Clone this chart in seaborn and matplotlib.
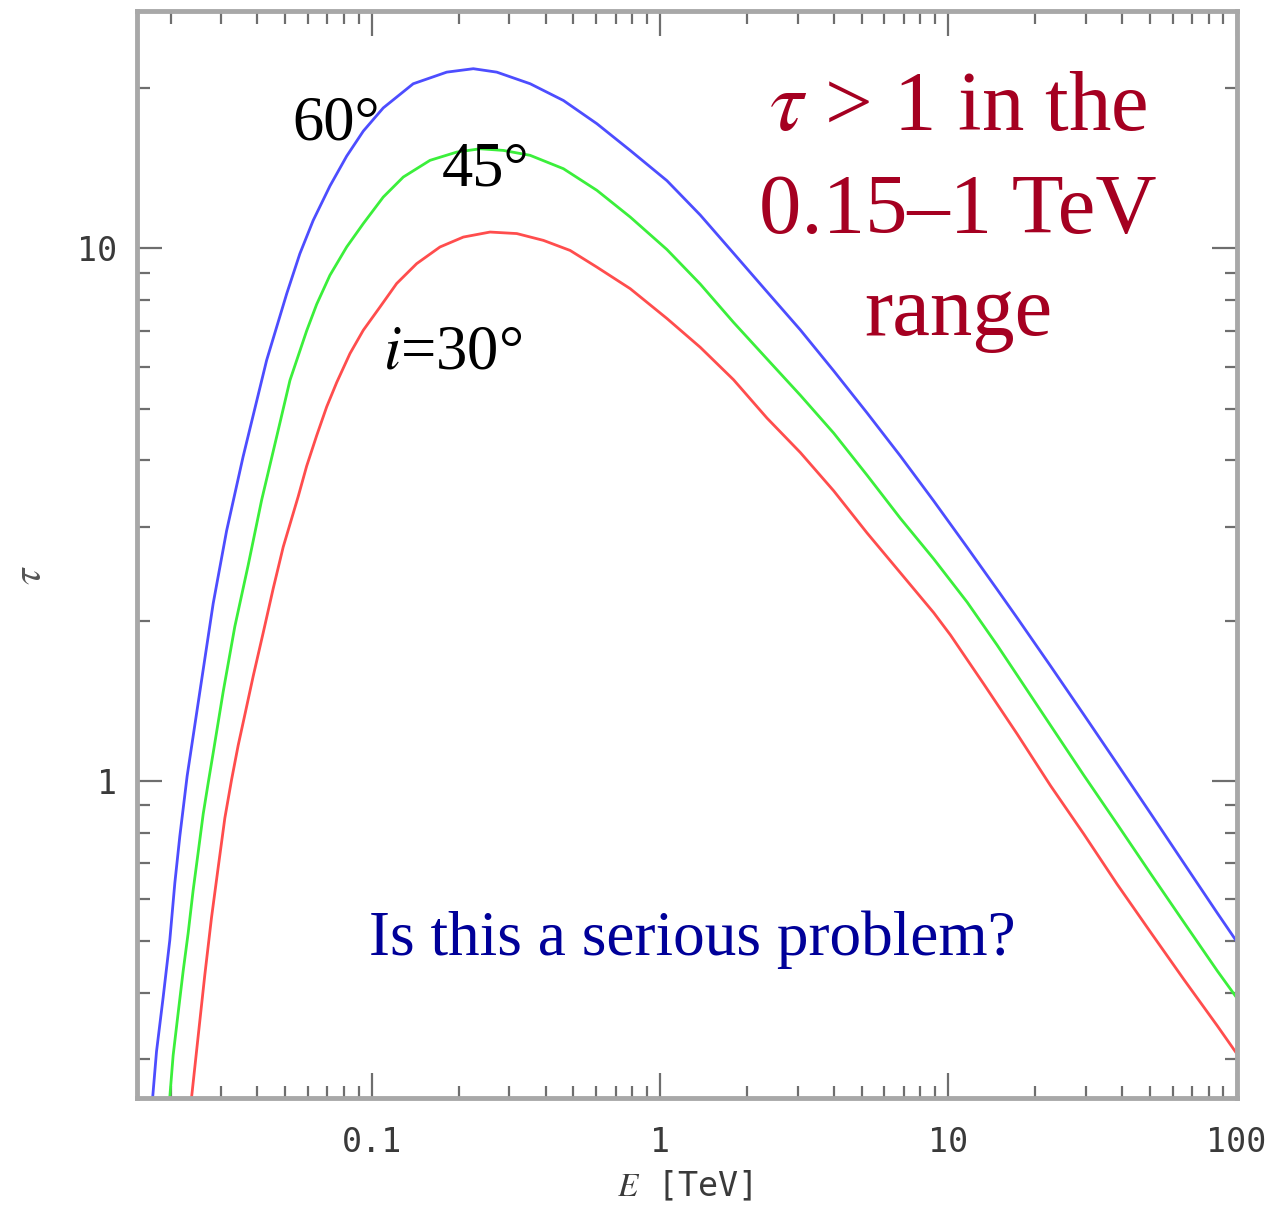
import numpy as np
import pandas as pd
import matplotlib
matplotlib.use("Agg")
import matplotlib.pyplot as plt
import matplotlib.ticker as mticker
import seaborn as sns

# ---------------- data ----------------
E_60 = [0.01734, 0.01788, 0.01885, 0.01988, 0.0207, 0.02154, 0.02284, 0.02528,
        0.02812, 0.0313, 0.0357, 0.0431, 0.0506, 0.0562, 0.0625, 0.0715, 0.0817,
        0.0933, 0.1094, 0.139, 0.1817, 0.2247, 0.271, 0.354, 0.4615, 0.603,
        0.787, 1.055, 1.377, 1.797, 2.347, 3.063, 3.998, 5.22, 6.81, 8.89,
        11.61, 14.75, 17.32, 22.61, 29.5, 38.5, 50.3, 65.6, 85.7, 100.0]
tau_60 = [0.2547, 0.3105, 0.392, 0.502, 0.6435, 0.7875, 1.022, 1.471,
          2.154, 2.949, 4.06, 6.165, 8.22, 9.77, 11.28, 13.1, 14.9,
          16.6, 18.35, 20.37, 21.42, 21.74, 21.42, 20.37, 18.95, 17.14,
          15.27, 13.40, 11.55, 9.79, 8.29, 7.03, 5.89, 4.91, 4.076, 3.356,
          2.747, 2.29, 2.024, 1.644, 1.332, 1.077, 0.869, 0.701, 0.565, 0.50]

E_45 = [0.01988, 0.02042, 0.02125, 0.02212, 0.02303, 0.02395, 0.02494, 0.02596,
        0.027, 0.02812, 0.03046, 0.03343, 0.03719, 0.0414, 0.04668, 0.05193,
        0.05933, 0.06427, 0.07145, 0.0817, 0.0933, 0.1094, 0.1284, 0.159,
        0.1968, 0.2371, 0.2857, 0.3537, 0.4615, 0.603, 0.787, 1.055, 1.377,
        1.797, 2.347, 3.063, 3.998, 5.22, 6.81, 8.89, 11.61, 14.75, 17.32,
        22.61, 29.5, 38.5, 50.3, 65.6, 85.7, 100.0]
tau_45 = [0.2547, 0.3053, 0.3664, 0.4395, 0.5186, 0.6223, 0.7342, 0.8666,
          0.989, 1.129, 1.471, 1.95, 2.542, 3.366, 4.426, 5.653,
          7.0, 7.85, 8.90, 10.06, 11.13, 12.48, 13.61, 14.63,
          15.16, 15.38, 15.27, 14.95, 14.11, 12.85, 11.45, 9.95, 8.57,
          7.26, 6.20, 5.30, 4.50, 3.751, 3.113, 2.612, 2.167, 1.80, 1.58,
          1.272, 1.025, 0.83, 0.67, 0.543, 0.44, 0.392]

E_30 = [0.02366, 0.02494, 0.0263, 0.02775, 0.02926, 0.03087, 0.03257, 0.03434,
        0.03622, 0.03871, 0.04195, 0.04544, 0.0492, 0.05546, 0.05933, 0.06427,
        0.06963, 0.07543, 0.08387, 0.0933, 0.1066, 0.1218, 0.1429, 0.1722,
        0.2075, 0.2568, 0.318, 0.3934, 0.4869, 0.603, 0.787, 1.055, 1.377,
        1.797, 2.347, 3.063, 3.998, 5.22, 6.81, 8.89, 10.16, 13.27, 17.32,
        22.61, 29.5, 38.5, 50.3, 65.6, 85.7, 100.0]
tau_30 = [0.2547, 0.3317, 0.4323, 0.5543, 0.6875, 0.8524, 1.0055, 1.167,
          1.332, 1.573, 1.90, 2.30, 2.75, 3.42, 3.90, 4.45,
          5.04, 5.60, 6.346, 7.02, 7.76, 8.59, 9.36, 10.06,
          10.5, 10.73, 10.66, 10.35, 9.91, 9.22, 8.40, 7.385, 6.52,
          5.666, 4.801, 4.137, 3.506, 2.922, 2.46, 2.07, 1.88, 1.52, 1.225,
          0.98, 0.795, 0.64, 0.52, 0.424, 0.347, 0.308]

angles = ["60°", "45°", "30°"]
line_colors = ["#4d4dff", "#3bef3b", "#ff4d4d"]

x_tick_values = [0.1, 1, 10, 100]
y_tick_values = [1, 10]

# ---------------- build long table ----------------
frames = []
for ang, e, t in zip(angles, [E_60, E_45, E_30], [tau_60, tau_45, tau_30]):
    frames.append(pd.DataFrame({"E": e, "tau": t, "angle": ang}))
df = pd.concat(frames, ignore_index=True)

# ---------------- styling ----------------
sns.set_theme(style="white")
plt.rcParams["mathtext.fontset"] = "stix"
plt.rcParams["font.family"] = ["DejaVu Sans Mono", "DejaVu Sans"]

W, H = 1276, 1213
fig = plt.figure(figsize=(W / 100, H / 100), dpi=100)
ax_left, ax_right, ax_top, ax_bottom = 137, 1237, 11, 1098
ax = fig.add_axes([ax_left / W, 1 - ax_bottom / H,
                   (ax_right - ax_left) / W, (ax_bottom - ax_top) / H])

sns.lineplot(data=df, x="E", y="tau", hue="angle", hue_order=angles,
             palette=dict(zip(angles, line_colors)), estimator=None,
             sort=False, linewidth=2.0, legend=False, ax=ax)

ax.set_xscale("log")
ax.set_yscale("log")
ax.set_xlim(0.0153, 100.3)
ax.set_ylim(0.254, 27.9)

ax.xaxis.set_major_locator(mticker.FixedLocator(x_tick_values))
ax.yaxis.set_major_locator(mticker.FixedLocator(y_tick_values))
ax.xaxis.set_minor_locator(mticker.LogLocator(base=10, subs=np.arange(2, 10), numticks=20))
ax.yaxis.set_minor_locator(mticker.LogLocator(base=10, subs=np.arange(2, 10), numticks=20))
fmt = mticker.FuncFormatter(lambda v, _: f"{v:g}")
ax.xaxis.set_major_formatter(fmt)
ax.yaxis.set_major_formatter(fmt)
ax.xaxis.set_minor_formatter(mticker.NullFormatter())
ax.yaxis.set_minor_formatter(mticker.NullFormatter())

ax.tick_params(which="both", direction="in", top=True, right=True,
               bottom=True, left=True, color="#6e6e6e")
ax.tick_params(which="major", length=18, width=1.6, labelsize=24,
               labelcolor="#3a3a3a")
ax.tick_params(axis="x", which="major", pad=20)
ax.tick_params(axis="y", which="major", pad=14)
ax.tick_params(which="minor", length=9, width=1.6)

for s in ax.spines.values():
    s.set_color("#a8a8a8")
    s.set_linewidth(3.5)

ax.set_xlabel(r"$E$ [TeV]", fontsize=24, color="#3a3a3a")
ax.xaxis.set_label_coords(0.498, -0.066)
ax.set_ylabel(r"$\tau$", fontsize=30, color="#555555", rotation=90)
ax.yaxis.label.set_verticalalignment("center")
ax.yaxis.label.set_horizontalalignment("center")
ax.yaxis.set_label_coords(-0.098, 0.481)

def fx(px):
    return (px - ax_left) / (ax_right - ax_left)

def fy(py):
    return (ax_bottom - py) / (ax_bottom - ax_top)

serif = ["Liberation Serif", "DejaVu Serif"]
ax.text(fx(292), fy(140), "60°", transform=ax.transAxes, fontsize=45,
        family=serif, color="black", ha="left", va="baseline")
ax.text(fx(442), fy(185), "45°", transform=ax.transAxes, fontsize=45,
        family=serif, color="black", ha="left", va="baseline")
ax.text(fx(383), fy(368), r"$i$=30°", transform=ax.transAxes, fontsize=45,
        family=serif, color="black", ha="left", va="baseline")

red = "#a50021"
for txt, base in [(r"$\tau$ > 1 in the", 130), ("0.15–1 TeV", 233), ("range", 335)]:
    ax.text(fx(958), fy(base), txt, transform=ax.transAxes, fontsize=61,
            family=serif, color=red, ha="center", va="baseline")

ax.text(fx(692), fy(955), "Is this a serious problem?", transform=ax.transAxes,
        fontsize=45.5, family=serif, color="#000099", ha="center", va="baseline")

fig.savefig("out.png", dpi=100)
